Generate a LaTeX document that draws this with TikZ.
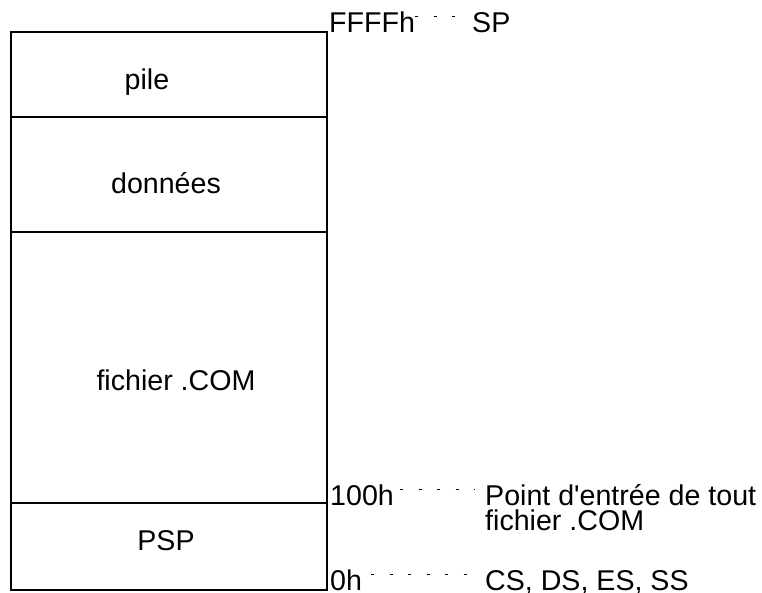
\documentclass[tikz,border=0pt]{standalone}
\usepackage{fontspec}
\setmainfont{Liberation Sans}
\usetikzlibrary{positioning}

\begin{document}
\begin{tikzpicture}[x=1pt,y=-1pt]
\tikzstyle{mem}=[line width=2pt, draw=black]
\tikzstyle{lbl}=[inner sep=0pt, font=\fontsize{28.6}{25}\selectfont]
\tikzstyle{seg}=[lbl, anchor=base]
\tikzstyle{addr}=[lbl, anchor=base west]
\tikzstyle{connect}=[line width=1pt, dash pattern=on 3pt off 15.5pt, shorten >=10pt]

  \useasboundingbox (0,0) rectangle (762,592);

  % memory block
  \draw[mem] (11,32) rectangle (327,590);
  \draw[mem] (11,117) -- (327,117);
  \draw[mem] (11,232) -- (327,232);
  \draw[mem] (11,503) -- (327,503);

  \node[seg] (pile)    at (147,89)  {pile};
  \node[seg] (donnees) at (166,193) {données};
  \node[seg] (fichier) at (176,390) {fichier .COM};
  \node[seg] (psp)     at (166,550) {PSP};

  % addresses
  \node[addr] (ffff)  at (329,32)  {FFFFh};
  \node[addr] (sp)    at (472,32)  {SP};
  \node[addr] (a100)  at (330,505) {100h};
  \node[addr, align=left] (entry) at (485,530) {Point d\textquotesingle entrée de tout\\fichier .COM};
  \node[addr] (a0)    at (330,590) {0h};
  \node[addr] (segs)  at (485,590) {CS, DS, ES, SS};

  \draw[connect] ([yshift=5pt]ffff.east) -- ([yshift=5pt]ffff.east -| sp.west);
  \draw[connect] ([yshift=5pt,xshift=6pt]a100.east) -- ([yshift=5pt]a100.east -| entry.west);
  \draw[connect] ([yshift=5pt,xshift=9pt]a0.east)   -- ([yshift=5pt]a0.east -| segs.west);

\end{tikzpicture}
\end{document}
